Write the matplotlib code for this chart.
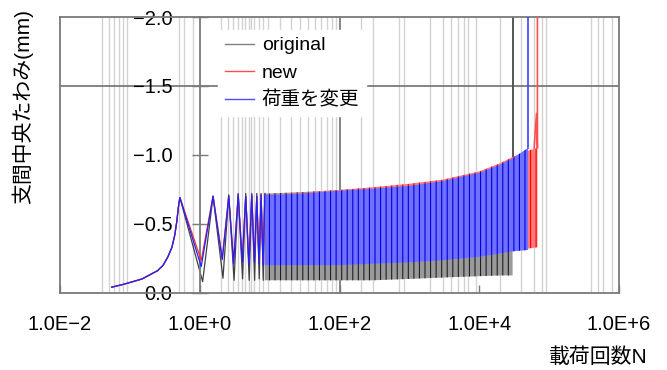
import numpy as np
import matplotlib.pyplot as plt
from matplotlib.lines import Line2D
from matplotlib.ticker import NullLocator

plt.rcParams['font.family'] = ['Liberation Sans', 'Noto Sans CJK JP', 'DejaVu Sans']
plt.rcParams['hatch.linewidth'] = 0.8

# first cycles (drawn as lines): loading up to N=0.5, then unload/reload each cycle
blue_n = [0.055, 0.08, 0.11, 0.15, 0.19, 0.25, 0.30, 0.35, 0.40, 0.44, 0.47, 0.50, 0.52,
          1.05, 1.55, 2.1, 2.6, 3.05, 3.55, 4.05, 4.55, 5.05, 5.55, 6.05, 6.55,
          7.05, 7.55, 8.05, 8.55]
blue_v = [-0.04, -0.06, -0.08, -0.10, -0.128, -0.16, -0.20, -0.26, -0.33, -0.42,
          -0.52, -0.64, -0.69, -0.19, -0.70, -0.24, -0.70, -0.21, -0.71, -0.22, -0.70,
          -0.20, -0.71, -0.22, -0.70, -0.21, -0.71, -0.20, -0.71]
red_n = [0.055, 0.08, 0.11, 0.15, 0.19, 0.25, 0.30, 0.35, 0.40, 0.44, 0.47, 0.50, 0.52,
         1.05, 1.55, 2.1, 2.6, 3.05, 3.55, 4.05, 4.55, 5.05, 5.55, 6.05, 6.55,
         7.05, 7.55, 8.05, 8.55]
red_v = [-0.04, -0.06, -0.08, -0.10, -0.128, -0.16, -0.20, -0.26, -0.33, -0.42,
         -0.52, -0.64, -0.69, -0.235, -0.70, -0.25, -0.70, -0.23, -0.71, -0.24, -0.70,
         -0.22, -0.71, -0.23, -0.70, -0.22, -0.71, -0.22, -0.71]
black_n = [0.055, 0.08, 0.11, 0.15, 0.19, 0.25, 0.30, 0.35, 0.40, 0.44, 0.47, 0.50, 0.52,
           1.1, 1.55, 2.15, 2.6, 3.1, 3.55, 4.1, 4.55, 5.1, 5.55, 6.1, 6.55,
           7.1, 7.55, 8.1, 8.55]
black_v = [-0.04, -0.06, -0.08, -0.10, -0.128, -0.16, -0.20, -0.26, -0.33, -0.42,
           -0.52, -0.64, -0.69, -0.08, -0.70, -0.105, -0.71, -0.09, -0.72, -0.10, -0.72,
           -0.09, -0.72, -0.09, -0.72, -0.10, -0.72, -0.09, -0.72]

# dense cycling: envelopes
blue_band_n = [8.55, 10, 30, 100, 300, 1000, 3000, 10000, 20000, 30000, 50000]
blue_upper = [-0.71, -0.71, -0.72, -0.74, -0.755, -0.775, -0.81, -0.87, -0.93, -0.975, -1.05]
blue_lower = [-0.20, -0.20, -0.20, -0.20, -0.21, -0.22, -0.235, -0.26, -0.285, -0.30, -0.31]
red_band_n = [8.55, 10, 30, 100, 300, 1000, 3000, 10000, 20000, 30000, 50000, 68000]
red_upper = [-0.71, -0.71, -0.725, -0.745, -0.765, -0.79, -0.82, -0.88, -0.94, -0.985, -1.03, -1.05]
red_lower = [-0.21, -0.21, -0.21, -0.21, -0.22, -0.23, -0.245, -0.27, -0.295, -0.31, -0.32, -0.33]
black_band_n = [8.55, 10, 30, 100, 300, 1000, 3000, 10000, 20000, 30000]
black_upper = [-0.72, -0.72, -0.73, -0.745, -0.76, -0.78, -0.81, -0.86, -0.92, -0.96]
black_lower = [-0.09, -0.09, -0.09, -0.09, -0.09, -0.10, -0.11, -0.12, -0.125, -0.125]

# failure run-off
black_tail_n = [30000, 30000]
black_tail_v = [-0.96, -2.3]
blue_tail_n = [50000, 50000]
blue_tail_v = [-1.05, -2.3]
red_tail_n = [61000, 66000, 68000, 68000]
red_tail_v = [-1.05, -1.30, -1.05, -2.3]

# load change markers
marker_n = [0.04, 0.05, 0.06, 0.07, 0.08, 0.09, 0.5, 0.6, 0.8, 2, 2.5, 3, 3.5, 4, 4.5,
            5, 5.5, 6, 7, 8, 9.5, 14, 20, 27, 35, 44, 54, 66, 78, 89, 200, 300, 700,
            850, 2000, 3000, 4000, 5000, 6000, 7000, 9000, 20000, 40000, 60000,
            80000, 90000, 400000, 500000, 600000, 800000]

xticks = [1e-2, 1e0, 1e2, 1e4, 1e6]
xtick_labels = ['1.0E\u22122', '1.0E+0', '1.0E+2', '1.0E+4', '1.0E+6']
yticks = [0.0, -0.5, -1.0, -1.5, -2.0]
ytick_labels = ['0.0', '\u22120.5', '\u22121.0', '\u22121.5', '\u22122.0']

fig = plt.figure(figsize=(6.67, 3.70), dpi=100)
ax = fig.add_axes([60 / 667, 77.3 / 370, 559 / 667, 275.7 / 370])
ax.set_xscale('log')
ax.set_xlim(1e-2, 1e6)
ax.set_ylim(0, -2.0)

for n in marker_n:
    ax.axvline(n, color='#d2d2d2', lw=1.0, zorder=0)
ax.axvline(100, color='#707070', lw=1.2, zorder=0.5)
ax.axhline(-1.5, color='#707070', lw=1.2, zorder=0.5)

ax.fill_between(black_band_n, black_lower, black_upper, facecolor='#9a9a9a',
                edgecolor='#202020', hatch='|||', lw=0, zorder=2)
ax.fill_between(red_band_n, red_lower, red_upper, facecolor='#ff7a7a',
                edgecolor='#ff0000', hatch='|||', lw=0, zorder=3)
ax.fill_between(blue_band_n, blue_lower, blue_upper, facecolor='#7070ff',
                edgecolor='#0000e0', hatch='|||', lw=0, zorder=4)

ax.plot(black_n, black_v, color='#404040', lw=0.9, zorder=2)
ax.plot(red_n, red_v, color='#ff3030', lw=0.9, zorder=3)
ax.plot(blue_n, blue_v, color='#2020ff', lw=0.9, zorder=4)
ax.plot(black_tail_n, black_tail_v, color='#555555', lw=1.4, zorder=2)
ax.plot(red_tail_n, red_tail_v, color='#ff5050', lw=1.2, zorder=3)
ax.plot(blue_tail_n, blue_tail_v, color='#4040ff', lw=1.2, zorder=4)

# axis styling: value axis crosses at N = 1
for s in ['top', 'right', 'bottom']:
    ax.spines[s].set_color('#7a7a7a')
    ax.spines[s].set_linewidth(1.3)
ax.spines['left'].set_position(('data', 1.0))
ax.spines['left'].set_color('#7a7a7a')
ax.spines['left'].set_linewidth(1.3)
ax.plot([1e-2, 1e-2], [0, -2.0], color='#7a7a7a', lw=1.3, clip_on=False, zorder=5)

ax.set_xticks(xticks, labels=xtick_labels)
ax.xaxis.set_minor_locator(NullLocator())
ax.set_yticks(yticks, labels=ytick_labels)
ax.tick_params(axis='x', direction='in', length=6, width=1, color='#7a7a7a',
               labelsize=14.5, pad=16)
ax.tick_params(axis='y', direction='inout', length=11.5, width=1, color='#7a7a7a',
               labelsize=14.5, pad=14)

handles = [Line2D([], [], color='#808080', lw=1),
           Line2D([], [], color='#ff4d4d', lw=1),
           Line2D([], [], color='#4d4dff', lw=1)]
leg = ax.legend(handles, ['original', 'new', '荷重を変更'], loc='upper left',
                bbox_to_anchor=((218 - 60) / 559, (292.7 - 30) / 275.7),
                borderaxespad=0, frameon=True, fancybox=False, framealpha=1,
                edgecolor='white', fontsize=14, handlelength=1.5,
                handletextpad=0.4, labelspacing=0.5, borderpad=0.35)
leg.set_zorder(6)

fig.text(22 / 667, 1 - 106 / 370, '支間中央たわみ(mm)', rotation=90,
         ha='center', va='center', fontsize=15)
fig.text(598 / 667, 1 - 357 / 370, '載荷回数N', ha='center', va='center', fontsize=15)

fig.savefig('out.png', dpi=100)
